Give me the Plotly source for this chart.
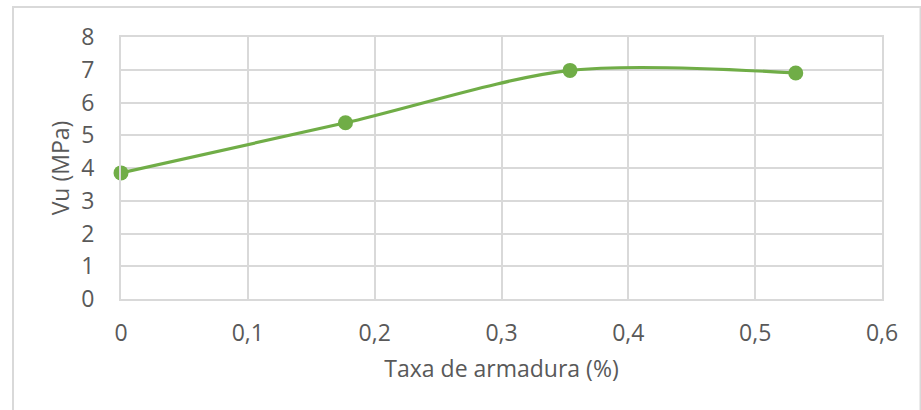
import plotly.graph_objects as go

# Reinforcement ratio (%) and ultimate shear stress Vu (MPa)
taxa_armadura = [0.0, 0.177, 0.354, 0.532]
vu_mpa = [3.85, 5.38, 6.98, 6.90]

green = "#70AD47"
grid = "#D9D9D9"
text_col = "#595959"
font_family = "Open Sans, Liberation Sans, sans-serif"
fsize = 23

fig = go.Figure()
fig.add_trace(go.Scatter(
    x=taxa_armadura,
    y=vu_mpa,
    mode="lines+markers",
    line=dict(color=green, width=3.2, shape="spline", smoothing=0.85),
    marker=dict(color=green, size=15),
    cliponaxis=False,
    showlegend=False,
))

fig.update_layout(
    width=921,
    height=410,
    margin=dict(l=121, r=39, t=37, b=111),
    paper_bgcolor="white",
    plot_bgcolor="white",
    separators=",.",
    font=dict(family=font_family, color=text_col, size=fsize),
    xaxis=dict(
        range=[0, 0.6],
        dtick=0.1,
        tick0=0,
        showgrid=True,
        gridcolor=grid,
        gridwidth=2,
        zeroline=False,
        showline=True,
        linecolor=grid,
        linewidth=2,
        mirror=True,
        ticks="",
        ticklabelstandoff=12,
        tickfont=dict(size=fsize, color=text_col),
        title=dict(text="Taxa de armadura (%)", font=dict(size=fsize, color=text_col), standoff=14),
    ),
    yaxis=dict(
        range=[0, 8],
        dtick=1,
        showgrid=True,
        gridcolor=grid,
        gridwidth=2,
        zeroline=False,
        showline=True,
        linecolor=grid,
        linewidth=2,
        mirror=True,
        ticks="",
        ticklabelstandoff=20,
        tickfont=dict(size=fsize, color=text_col),
        title=dict(text="Vu (MPa)", font=dict(size=fsize, color=text_col), standoff=5),
    ),
)

# Light frame around the chart area
fig.add_shape(
    type="rect", xref="paper", yref="paper",
    x0=-0.1419, x1=1.0506, y0=-0.44, y1=1.1145,
    line=dict(color=grid, width=2), fillcolor="rgba(0,0,0,0)", layer="below",
)

fig.write_html("out.html")
